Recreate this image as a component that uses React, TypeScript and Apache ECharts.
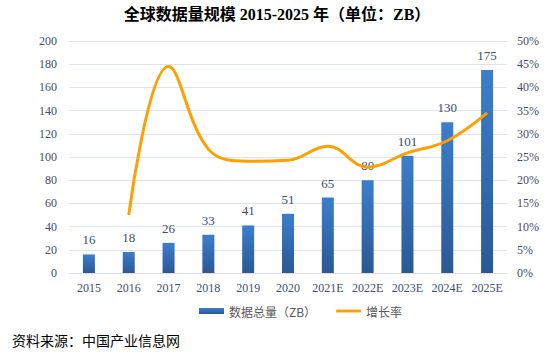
import React, { useEffect, useRef } from "react";
import * as echarts from "echarts";

const categories = ["2015", "2016", "2017", "2018", "2019", "2020", "2021E", "2022E", "2023E", "2024E", "2025E"];
const dataVolume = [16, 18, 26, 33, 41, 51, 65, 80, 101, 130, 175];
const growthRate = [null, 12.5, 44.5, 26.7, 24.1, 24.3, 27.3, 22.8, 25.9, 28.5, 34.5];
const leftTicks = { min: 0, max: 200, interval: 20 };
const rightTicks = { min: 0, max: 50, interval: 5 };

const serif = "'Times New Roman', 'Liberation Serif', 'Noto Sans CJK SC', serif";
const labelColor = "#3E4F6B";

export default function App() {
  const ref = useRef<HTMLDivElement>(null);
  useEffect(() => {
    const chart = echarts.init(ref.current!, null, { renderer: "svg" });
    chart.setOption({
      animation: false,
      backgroundColor: "#ffffff",
      title: {
        text: "全球数据量规模 2015-2025 年（单位：ZB）",
        left: "center",
        top: 1,
        textStyle: { fontFamily: "'Liberation Serif', 'Noto Sans CJK SC', serif", fontSize: 16, fontWeight: "bold", color: "#000" },
      },
      grid: { left: 69, right: 47, top: 41, bottom: 82, containLabel: false },
      legend: {
        bottom: 33,
        left: 194,
        itemGap: 20,
        itemWidth: 25,
        itemHeight: 6,
        symbolKeepAspect: true,
        textStyle: { fontFamily: "'Noto Sans CJK SC', sans-serif", fontSize: 12, color: "#595959" },
        data: [
          { name: "数据总量（ZB）", icon: "rect" },
          { name: "增长率", icon: "path://M0,0H26V3H0Z", itemStyle: { color: "#FFA000" } },
        ],
      },
      graphic: [
        {
          type: "text",
          left: 12,
          top: 333,
          style: { text: "资料来源：中国产业信息网", fontFamily: "'Noto Sans CJK SC', sans-serif", fontSize: 14, fill: "#000" },
        },
      ],
      xAxis: {
        type: "category",
        data: categories,
        axisTick: { show: false },
        axisLine: { lineStyle: { color: "#D9DEE8" } },
        axisLabel: { color: labelColor, fontFamily: serif, fontSize: 12, margin: 9, interval: 0 },
      },
      yAxis: [
        {
          type: "value",
          min: leftTicks.min,
          max: leftTicks.max,
          interval: leftTicks.interval,
          axisLine: { show: false },
          axisTick: { show: false },
          axisLabel: { color: labelColor, fontFamily: serif, fontSize: 12, margin: 12 },
          splitLine: { lineStyle: { color: "#DCE4F0", width: 1 } },
        },
        {
          type: "value",
          min: rightTicks.min,
          max: rightTicks.max,
          interval: rightTicks.interval,
          axisLine: { show: false },
          axisTick: { show: false },
          axisLabel: { color: labelColor, fontFamily: serif, fontSize: 12, margin: 10, formatter: "{value}%" },
          splitLine: { show: false },
        },
      ],
      series: [
        {
          name: "数据总量（ZB）",
          type: "bar",
          data: dataVolume,
          barWidth: 12,
          itemStyle: {
            color: new echarts.graphic.LinearGradient(0, 0, 0, 1, [
              { offset: 0, color: "#3C7ECC" },
              { offset: 1, color: "#2A5895" },
            ]),
          },
          label: {
            show: true,
            position: "top",
            distance: 8,
            color: labelColor,
            fontFamily: serif,
            fontSize: 13,
          },
        },
        {
          name: "增长率",
          type: "line",
          yAxisIndex: 1,
          data: growthRate,
          smooth: 0.4,
          showSymbol: false,
          symbol: "none",
          lineStyle: { color: "#FFA000", width: 3 },
          itemStyle: { color: "#FFA000" },
        },
      ],
    });
    return () => chart.dispose();
  }, []);
  return <div ref={ref} style={{ position: "fixed", left: 0, top: 0, width: 554, height: 355 }} />;
}
